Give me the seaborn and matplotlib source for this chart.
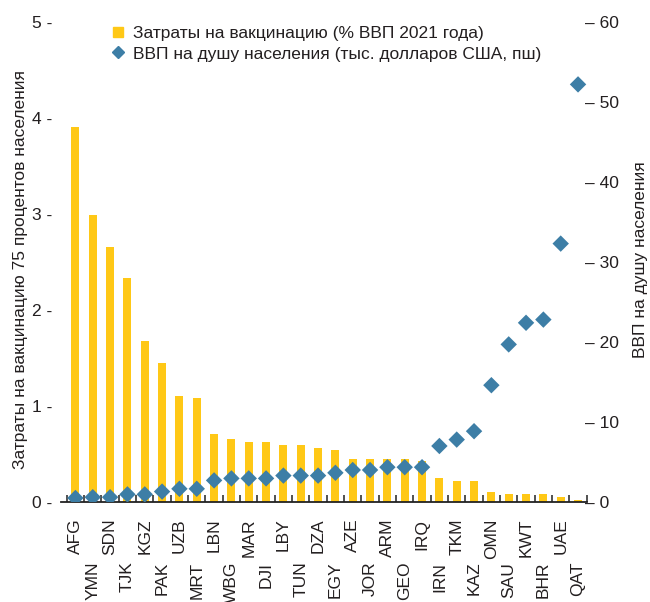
import numpy as np
import pandas as pd
import matplotlib
matplotlib.use("Agg")
import matplotlib.pyplot as plt
from matplotlib.lines import Line2D
import seaborn as sns

countries = ["AFG", "YMN", "SDN", "TJK", "KGZ", "PAK", "UZB", "MRT", "LBN", "WBG",
             "MAR", "DJI", "LBY", "TUN", "DZA", "EGY", "AZE", "JOR", "ARM", "GEO",
             "IRQ", "IRN", "TKM", "KAZ", "OMN", "SAU", "KWT", "BHR", "UAE", "QAT"]
vacc_cost = [3.91, 2.99, 2.66, 2.33, 1.68, 1.45, 1.10, 1.08, 0.71, 0.66,
             0.625, 0.625, 0.595, 0.595, 0.56, 0.54, 0.45, 0.45, 0.45, 0.45,
             0.43, 0.25, 0.22, 0.22, 0.10, 0.087, 0.087, 0.087, 0.052, 0.02]
gdp_pc = [0.5, 0.6, 0.6, 0.95, 0.95, 1.3, 1.65, 1.65, 2.7, 2.95,
          2.95, 2.95, 3.3, 3.3, 3.3, 3.65, 4.0, 4.0, 4.35, 4.35,
          4.35, 7.0, 7.8, 8.85, 14.6, 19.7, 22.4, 22.8, 32.3, 52.2]
left_ticks = [0, 1, 2, 3, 4, 5]
right_ticks = [0, 10, 20, 30, 40, 50, 60]

legend_bar = "Затраты на вакцинацию (% ВВП 2021 года)"
legend_dot = "ВВП на душу населения (тыс. долларов США, пш)"
ylabel_left = "Затраты на вакцинацию 75 процентов населения"
ylabel_right = "ВВП на душу населения"

BAR_C = "#FFC816"
DOT_C = "#3D7EA6"
TXT_C = "#231F20"

sns.set_theme(style="white")
plt.rcParams["font.family"] = ["Liberation Sans", "DejaVu Sans"]
FS = 12.5

df = pd.DataFrame({"country": countries, "cost": vacc_cost, "gdp": gdp_pc,
                   "pos": np.arange(len(countries))})

fig = plt.figure(figsize=(6.5, 6.02), dpi=100)
ax = fig.add_axes([60.7 / 650, 100 / 602, 526 / 650, 480 / 602])
sns.barplot(data=df, x="country", y="cost", ax=ax, color=BAR_C, saturation=1,
            width=0.46, linewidth=0, order=countries)
ax2 = ax.twinx()
sns.scatterplot(data=df, x="pos", y="gdp", ax=ax2, marker="D", s=70,
                color=DOT_C, edgecolor="none", linewidth=0, zorder=5)

n = len(countries)
ax.set_xlim(-0.85, n - 0.5)
ax.set_ylim(0, 5)
ax2.set_ylim(0, 60)

for a in (ax, ax2):
    for s in ("top", "left", "right", "bottom"):
        a.spines[s].set_visible(False)
ax.spines["bottom"].set_visible(True)
ax.spines["bottom"].set_color("#222222")
ax.spines["bottom"].set_linewidth(1.3)

ax.set_yticks(left_ticks)
ax.set_yticklabels([f"{v} -" for v in left_ticks], fontsize=FS, color=TXT_C)
ax.tick_params(axis="y", length=0, pad=6)
ax2.set_yticks(right_ticks)
ax2.set_yticklabels([f"– {v}" for v in right_ticks], fontsize=FS, color=TXT_C)
ax2.tick_params(axis="y", length=0, pad=-1)

ax.set_xticks(np.arange(n))
ax.set_xticklabels([])
ax.set_xticks(np.arange(-0.5, n, 1), minor=True)
ax.tick_params(axis="x", which="major", length=0)
ax.tick_params(axis="x", which="minor", direction="in", length=5, width=1.2,
               color="#333333", bottom=True)
ax.set_xlabel("")
ax2.set_xlabel("")
ax.grid(False)
ax2.grid(False)

for i, lbl in enumerate(countries):
    off = -12 if i % 2 == 0 else -43
    ax.annotate(lbl, xy=(i, 0), xycoords=("data", "axes fraction"),
                xytext=(0, off), textcoords="offset points", rotation=90,
                ha="center", va="top", fontsize=FS, color=TXT_C,
                annotation_clip=False)

ax.set_ylabel("")
ax2.set_ylabel("")
fig.text(21 / 650, 1 - 270 / 602, ylabel_left, rotation=90, ha="center",
         va="center", fontsize=FS, color=TXT_C)
fig.text(640 / 650, 1 - 260 / 602, ylabel_right, rotation=90, ha="center",
         va="center", fontsize=FS, color=TXT_C)

handles = [Line2D([], [], marker="s", linestyle="none", color=BAR_C, markersize=7),
           Line2D([], [], marker="D", linestyle="none", color=DOT_C, markersize=6.5)]
leg = ax2.legend(handles, [legend_bar, legend_dot], loc="upper left",
                 bbox_to_anchor=(112 / 650, 1 - 26 / 602),
                 bbox_transform=fig.transFigure, frameon=False, fontsize=FS,
                 handlelength=0.7, handletextpad=0.5, labelspacing=0.3,
                 borderaxespad=0, borderpad=0)
for t in leg.get_texts():
    t.set_color(TXT_C)

fig.savefig("out.png", dpi=100)
